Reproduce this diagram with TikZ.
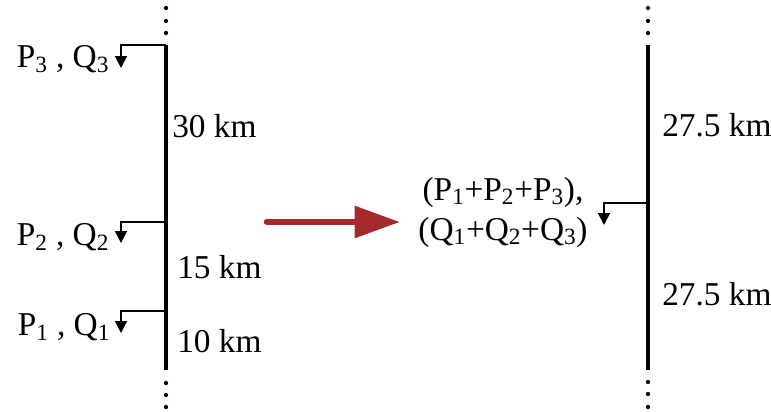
\documentclass[tikz,border=0pt]{standalone}
\usepackage{fontspec}
\setmainfont{Liberation Serif}
\usetikzlibrary{arrows.meta,positioning,calc}
\definecolor{redarr}{HTML}{A3292A}
\tikzset{
  bus/.style={line width=3.3pt},
  load/.style={line width=1.3pt,-{Triangle[length=9pt,width=9pt]}},
  busdot/.style={fill,circle,inner sep=0pt,minimum size=3.2pt},
  lbl/.style={font=\fontsize{25}{30}\selectfont,inner sep=0pt},
  bigar/.style={line width=5pt,draw=redarr,line cap=round,-{Triangle[length=34pt,width=23pt]}},
}

\begin{document}
\begin{tikzpicture}[x=0.75pt,y=-0.75pt]
\useasboundingbox (0,0) rectangle (771,411);

% original feeder
\coordinate (ltop) at (166,45);
\coordinate (lbot) at (166,370);
\coordinate (l3) at (166,45);
\coordinate (l2) at (166,222);
\coordinate (l1) at (166,311);
\coordinate (a3) at (121,68);
\coordinate (a2) at (121,243);
\coordinate (a1) at (121,333);
\draw[bus] (ltop) -- (lbot);
\foreach \y in {8,21,33,383,395,407}
  \node[busdot] at (166,\y) {};
\draw[load] (l3) -| (a3);
\draw[load] (l2) -| (a2);
\draw[load] (l1) -| (a1);
\node[lbl] (pq3) at (63,59) {P\textsubscript{3} , Q\textsubscript{3}};
\node[lbl] (pq2) at (63,237) {P\textsubscript{2} , Q\textsubscript{2}};
\node[lbl] (pq1) at (64,327) {P\textsubscript{1} , Q\textsubscript{1}};
\node[lbl,anchor=west] (d3) at (172,126) {30 km};
\node[lbl,anchor=west] (d2) at (177,267) {15 km};
\node[lbl,anchor=west] (d1) at (177,341) {10 km};

% arrow
\coordinate (as) at (267,222);
\coordinate (ae) at (400,222);
\draw[bigar] (as) -- (ae);

% equivalent feeder
\coordinate (rtop) at (648,45);
\coordinate (rbot) at (648,370);
\coordinate (r0) at (648,203);
\coordinate (b0) at (604,225);
\draw[bus] (rtop) -- (rbot);
\foreach \y in {8,21,33,382,394,407}
  \node[busdot] at (648,\y) {};
\draw[load] (r0) -| (b0);
\node[lbl,align=center] (sum) at (503,212) {(P\textsubscript{1}+P\textsubscript{2}+P\textsubscript{3}),\\(Q\textsubscript{1}+Q\textsubscript{2}+Q\textsubscript{3})};
\node[lbl,anchor=west] (e1) at (662,125) {27.5 km};
\node[lbl,anchor=west] (e2) at (662,294) {27.5 km};
\end{tikzpicture}
\end{document}
